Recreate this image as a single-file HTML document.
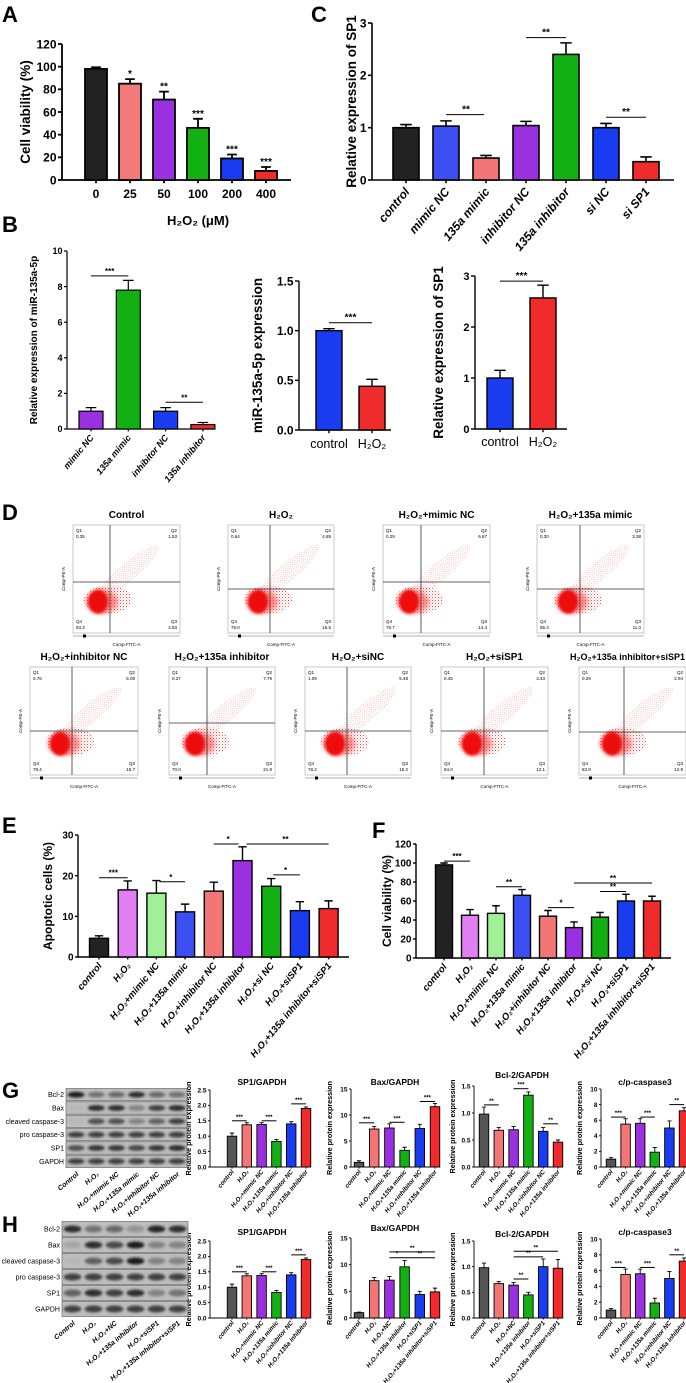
<!DOCTYPE html>
<html><head><meta charset="utf-8">
<style>
html,body{margin:0;padding:0;background:#fff;}
svg{display:block;font-family:"Liberation Sans","DejaVu Sans",sans-serif;}
</style></head>
<body>
<svg id="fig" width="686" height="1383" viewBox="0 0 686 1383" xmlns="http://www.w3.org/2000/svg">
<defs>
<filter id="blur1" x="-50%" y="-50%" width="200%" height="200%"><feGaussianBlur stdDeviation="1.2"/></filter>
<filter id="blur2" x="-50%" y="-50%" width="200%" height="200%"><feGaussianBlur stdDeviation="2.5"/></filter>
<pattern id="speck" width="3" height="3" patternUnits="userSpaceOnUse">
<rect x="0" y="0" width="1" height="1" fill="#e22"/><rect x="1.7" y="1.6" width="0.8" height="0.8" fill="#f55"/>
</pattern>
</defs>
</svg>
<script>
// ---------- DATA ----------
const aCats=["0","25","50","100","200","400"];
const aVals=[98,85,71,46,19,8];
const aErr=[1.5,4,7,8,3.5,3.5];
const aStars=["","*","**","***","***","***"];
const aTicks=[0,20,40,60,80,100,120];

const cCats=["control","mimic NC","135a mimic","inhibitor NC","135a inhibitor","si NC","si SP1"];
const cVals=[1.0,1.03,0.42,1.04,2.4,1.0,0.35];
const cErr=[0.06,0.1,0.05,0.08,0.22,0.08,0.09];
const cTicks=[0,1,2,3];

const b1Cats=["mimic NC","135a mimic","inhibitor NC","135a inhibitor"];
const b1Vals=[1.0,7.8,1.0,0.25];
const b1Err=[0.2,0.55,0.2,0.12];
const b1Ticks=[0,2,4,6,8,10];

const b2Cats=["control","H₂O₂"];
const b2Vals=[1.0,0.44];
const b2Err=[0.02,0.07];
const b2Ticks=[0,0.5,1.0,1.5];
const b2TickLabels=["0.0","0.5","1.0","1.5"];

const b3Cats=["control","H₂O₂"];
const b3Vals=[1.0,2.57];
const b3Err=[0.15,0.25];
const b3Ticks=[0,1,2,3];

const eCats=["control","H₂O₂","H₂O₂+mimic NC","H₂O₂+135a mimic","H₂O₂+inhibitor NC","H₂O₂+135a inhibitor","H₂O₂+si NC","H₂O₂+siSP1","H₂O₂+135a inhibitor+siSP1"];
const eVals=[4.6,16.5,15.7,11.1,16.2,23.7,17.4,11.4,11.9];
const eErr=[0.6,2.2,3.1,1.9,2.2,3.4,1.9,2.2,1.9];
const eTicks=[0,10,20,30];

const fVals=[98,45,47,66,44,32,43,60,60];
const fErr=[2,6,8,6,6,6,5,7,5];
const fTicks=[0,20,40,60,80,100,120];

const gCats=["control","H₂O₂","H₂O₂+mimic NC","H₂O₂+135a mimic","H₂O₂+inhibitor NC","H₂O₂+135a inhibitor"];
const hCats2=["control","H₂O₂","H₂O₂+NC","H₂O₂+135a inhibitor","H₂O₂+siSP1","H₂O₂+135a inhibitor+siSP1"];
const gSp1Vals=[1.0,1.37,1.38,0.83,1.4,1.9];
const gSp1Err=[0.1,0.07,0.06,0.06,0.07,0.05];
const gBaxVals=[0.9,7.3,7.5,3.2,7.4,11.6];
const gBaxErr=[0.3,0.5,0.8,0.6,0.8,0.6];
const gBclVals=[0.98,0.68,0.69,1.33,0.66,0.46];
const gBclErr=[0.13,0.05,0.06,0.06,0.07,0.04];
const gCasVals=[1.0,5.5,5.6,1.9,5.0,7.2];
const gCasErr=[0.2,0.7,0.6,0.6,0.9,0.4];
const hBaxVals=[1.0,7.0,7.1,9.6,4.4,4.9];
const hBaxErr=[0.1,0.6,0.7,1.2,0.6,0.7];
const hBclVals=[0.98,0.67,0.64,0.45,1.0,0.97];
const hBclErr=[0.09,0.04,0.05,0.05,0.15,0.17];
const spTicks=[0,0.5,1.0,1.5,2.0,2.5];
const spTickLabels=["0.0","0.5","1.0","1.5","2.0","2.5"];
const baxTicks=[0,5,10,15];
const bclTicks=[0,0.5,1.0,1.5];
const bclTickLabels=["0.0","0.5","1.0","1.5"];
const casTicks=[0,2,4,6,8,10];

const blotRows=["Bcl-2","Bax","cleaved caspase-3","pro caspase-3","SP1","GAPDH"];
const gBlot=[[1,.5,.55,.9,.55,.5],[.1,.9,.9,.4,.8,.9],[.1,.7,.7,.4,.6,.8],[.8,.8,.8,.8,.8,.8],[.7,.85,.85,.75,.85,.9],[.8,.8,.8,.8,.8,.8]];
const hBlot=[[.9,.5,.55,.3,.95,.9],[.2,.9,.75,1,.4,.4],[.1,.6,.75,1,.4,.4],[.8,.8,.8,.8,.8,.8],[.6,.9,.8,.9,.4,.5],[.8,.8,.8,.8,.8,.8]];
const gLanes=["Control","H₂O₂","H₂O₂+mimic NC","H₂O₂+135a mimic","H₂O₂+inhibitor NC","H₂O₂+135a inhibitor"];
const hLanes=["Control","H₂O₂","H₂O₂+NC","H₂O₂+135a inhibitor","H₂O₂+siSP1","H₂O₂+135a inhibitor+siSP1"];

const flowTitles=["Control","H₂O₂","H₂O₂+mimic NC","H₂O₂+135a mimic","H₂O₂+inhibitor NC","H₂O₂+135a inhibitor","H₂O₂+siNC","H₂O₂+siSP1","H₂O₂+135a inhibitor+siSP1"];
const flowQ1=["0.35","0.64","0.29","0.30","0.76","0.37","1.09","0.45","0.29"];
const flowQ2=["1.53","4.85","6.67","3.38","5.09","7.79","5.48","3.43","2.94"];
const flowQ3=["4.83","16.5","14.4","11.0","15.7","21.9","15.2","12.1","12.9"];
const flowQ4=["93.3","78.0","78.7","85.3","78.4","70.0","78.2","84.0","83.9"];

// ---------- HELPERS ----------
const NS="http://www.w3.org/2000/svg";
const svg=document.getElementById('fig');
function mk(tag,parent,attrs){const e=document.createElementNS(NS,tag);for(const k in attrs)e.setAttribute(k,attrs[k]);parent.appendChild(e);return e;}
function txt(parent,x,y,s,fs,opts){opts=opts||{};const t=mk('text',parent,{x:x,y:y,'font-size':fs,'font-weight':opts.w||'bold','text-anchor':opts.a||'middle',fill:opts.fill||'#000'});if(opts.rot!==undefined)t.setAttribute('transform','rotate('+opts.rot+' '+x+' '+y+')');if(opts.it)t.setAttribute('font-style','italic');t.textContent=s;return t;}

function chart(o){
  const g=mk('g',svg,{});
  
  
  const sy=v=>o.y0-(v/o.max)*(o.y0-o.yTop);
  const sx=i=>o.c0+i*o.step;
  const sw=o.sw||1.2;
  const ax=mk('line',g,{x1:o.ax,y1:o.y0,x2:o.ax,y2:sy(o.max),stroke:'#000','stroke-width':sw});
  
  
  const xa=mk('line',g,{x1:o.ax,y1:o.y0,x2:o.x1,y2:o.y0,stroke:'#000','stroke-width':sw});
  
  
  o.ticks.forEach((t,k)=>{
    mk('line',g,{x1:o.ax-o.tl,y1:sy(t),x2:o.ax,y2:sy(t),stroke:'#000','stroke-width':sw});
    const lab=o.tickLabels?o.tickLabels[k]:String(t);
    const tt=txt(g,o.ax-o.tl-1.5,sy(t)+o.tfs*0.36,lab,o.tfs,{a:'end'});
    
    
  });
  o.vals.forEach((v,i)=>{
    const cx=sx(i);
    mk('line',g,{x1:cx,y1:o.y0,x2:cx,y2:o.y0+o.tl*0.8,stroke:'#000','stroke-width':sw});
    const et=sy(v+o.errs[i]);
    const el=mk('path',g,{d:'M'+cx+' '+sy(v)+'V'+et+'M'+(cx-o.bw*0.22)+' '+et+'H'+(cx+o.bw*0.22),stroke:'#000','stroke-width':sw,fill:'none'});
    
    
    const b=mk('rect',g,{x:cx-o.bw/2,y:sy(v),width:o.bw,height:o.y0-sy(v),fill:o.colors[i],stroke:'#000','stroke-width':o.bsw||sw});
    
    
    if(o.stars&&o.stars[i]){
      const st=txt(g,cx,et-2,o.stars[i],o.sfs,{});
      
      
    }
    if(o.cats){
      let t;
      if(o.rot){t=txt(g,cx+o.lfs*0.35,o.y0+o.lo,o.cats[i],o.lfs,{a:'end',rot:-o.rot,it:o.it});}
      else{t=txt(g,cx,o.y0+o.lo,o.cats[i],o.lfs,{w:o.lw||'bold'});}
      
      
    }
  });
  (o.sig||[]).forEach(s=>{
    const y=sy(s[2]);
    const l=mk('line',g,{x1:sx(s[0])-(s[4]||0),y1:y,x2:sx(s[1])+(s[5]||0),y2:y,stroke:'#000','stroke-width':1});
    
    
    const t=txt(g,(sx(s[0])+sx(s[1]))/2,y-2,s[3],o.sfs,{});
    
    
  });
  if(o.ylabel){
    const t=txt(g,o.ylx,(o.y0+sy(o.max))/2,o.ylabel,o.yfs,{rot:-90});
    
    
  }
  if(o.title){
    const t=txt(g,o.tx,o.ty,o.title,o.tifs||9,{});
    
    
  }
  if(o.xtitle){
    const t=txt(g,o.xtx,o.xty,o.xtitle,o.xtfs,{});
    
    
  }
}
function panelLabel(s,x,y){const t=txt(svg,x,y,s,22,{a:'start'});}

// ---------- PANEL LABELS ----------
panelLabel('A',2,22);panelLabel('C',311,22);panelLabel('B',2,232);panelLabel('D',2,520);
panelLabel('E',2,833);panelLabel('F',372,838);panelLabel('G',2,1098);panelLabel('H',2,1232);

// ---------- A ----------
chart({name:'panel-a-chart',ax:62,x1:291,y0:180,yTop:44,max:120,ticks:aTicks,tl:4,tfs:12,
  c0:96,step:34,bw:22,sw:1.8,vals:aVals,errs:aErr,colors:['#222','#f47a7a','#9b30e0','#12b012','#1a3cf0','#f02b2b'],
  stars:aStars,sfs:10,cats:aCats,lo:18,lfs:12,ylabel:'Cell viability (%)',ylx:30,yfs:13.5,
  xtitle:'H₂O₂ (μM)',xtx:198,xty:225,xtfs:13});
// ---------- C ----------
chart({name:'panel-c-chart',ax:372,x1:674,y0:180,yTop:23,max:3,ticks:cTicks,tl:4,tfs:12,
  c0:406,step:40,bw:26,sw:1.6,vals:cVals,errs:cErr,colors:['#222','#3b4ff2','#f27676','#9b30e0','#12b012','#1a3cf0','#f02b2b'],
  cats:cCats,rot:50,lo:12,lfs:12,it:true,sfs:10,
  sig:[[1,2,1.25,'**',0,-2],[3,4,2.72,'**',0,0],[5,6,1.2,'**',0,0]],
  ylabel:'Relative expression of SP1',ylx:356,yfs:13.5});
// ---------- B ----------
chart({name:'panel-b-mir-chart',ax:67,x1:215,y0:429,yTop:251,max:10,ticks:b1Ticks,tl:3,tfs:9,
  c0:91,step:37.3,bw:24,sw:1.2,vals:b1Vals,errs:b1Err,colors:['#9b30e0','#12b012','#1a3cf0','#f02b2b'],
  cats:b1Cats,rot:50,lo:9,lfs:9,it:true,sfs:8,
  sig:[[0,1,8.6,'***',0,0],[2,3,1.5,'**',0,0]],
  ylabel:'Relative expression of miR-135a-5p',ylx:37,yfs:10});
chart({name:'panel-b-h2o2-mir-chart',ax:299,x1:391,y0:430,yTop:281,max:1.5,ticks:b2Ticks,tickLabels:b2TickLabels,tl:4,tfs:12,
  c0:329,step:43,bw:26,sw:1.4,vals:b2Vals,errs:b2Err,colors:['#1a3cf0','#f02b2b'],
  cats:b2Cats,lo:18,lfs:12.5,lw:'normal',sfs:10,sig:[[0,1,1.08,'***',0,0]],
  ylabel:'miR-135a-5p expression',ylx:262,yfs:13.5});
chart({name:'panel-b-h2o2-sp1-chart',ax:475,x1:567,y0:429,yTop:276,max:3,ticks:b3Ticks,tl:4,tfs:11,
  c0:500,step:43,bw:26,sw:1.4,vals:b3Vals,errs:b3Err,colors:['#1a3cf0','#f02b2b'],
  cats:b3Cats,lo:17,lfs:12.5,lw:'normal',sfs:10,sig:[[0,1,2.9,'***',0,0]],
  ylabel:'Relative expression of SP1',ylx:443,yfs:13.5});
// ---------- E & F ----------
const efColors=['#222','#e080f2','#a0f096','#3b4ff2','#f27676','#9b30e0','#12b012','#1a3cf0','#f02b2b'];
chart({name:'panel-e-chart',ax:78,x1:349,y0:957,yTop:835,max:30,ticks:eTicks,tl:3,tfs:10,
  c0:99,step:28.7,bw:19,sw:1.4,vals:eVals,errs:eErr,colors:efColors,
  cats:eCats,rot:50,lo:9,lfs:9.5,it:true,sfs:8,
  sig:[[0,1,19.5,'***',0,0],[2,3,18.5,'*',-3,0],[4,5,27.8,'*',0,-4],[5,8,27.8,'**',-4,0],[6,7,20.2,'*',-2,0]],
  ylabel:'Apoptotic cells (%)',ylx:52,yfs:12});
chart({name:'panel-f-chart',ax:416,x1:671,y0:958,yTop:844,max:120,ticks:fTicks,tl:3,tfs:10,
  c0:444,step:26,bw:17,sw:1.4,vals:fVals,errs:fErr,colors:efColors,
  cats:eCats,rot:50,lo:9,lfs:9.5,it:true,sfs:8,
  sig:[[0,1,102,'***',0,0],[2,3,75,'**',0,0],[4,5,53,'*',0,0],[5,8,79,'**',0,0],[6,7,70,'**',0,0]],
  ylabel:'Cell viability (%)',ylx:391,yfs:12});
// ---------- G & H charts ----------
const ghColors=['#555','#f27676','#9b30e0','#12b012','#1a3cf0','#f02b2b'];
function small(name,ax,x1,c0,step,y0,yTop,max,ticks,tl,vals,errs,cats,sig,title,tx,ty){
  chart({name:name,ax:ax,x1:x1,y0:y0,yTop:yTop,max:max,ticks:ticks,tickLabels:tl,tl:2,tfs:6.5,
    c0:c0,step:step,bw:9.5,sw:0.9,vals:vals,errs:errs,colors:ghColors,
    cats:cats,rot:50,lo:5,lfs:6.3,it:true,sfs:6,sig:sig,
    ylabel:'Relative protein expression',ylx:ax-19,yfs:7.2,title:title,tx:tx,ty:ty,tifs:8.5});
}
small('panel-g-sp1-chart',210,311,232,14.8,1167,1090,2.5,spTicks,spTickLabels,gSp1Vals,gSp1Err,gCats,[[0,1,1.5,'***'],[2,3,1.5,'***'],[4,5,2.05,'***']],'SP1/GAPDH',262,1085);
small('panel-g-bax-chart',351,440,359,15.2,1167,1089,15,baxTicks,null,gBaxVals,gBaxErr,gCats,[[0,1,8.5,'***'],[2,3,8.6,'***'],[4,5,12.6,'***']],'Bax/GAPDH',395,1085);
small('panel-g-bcl2-chart',474,563,484,14.8,1167,1086,1.5,bclTicks,bclTickLabels,gBclVals,gBclErr,gCats,[[0,1,1.15,'**'],[2,3,1.45,'***'],[4,5,0.8,'**']],'Bcl-2/GAPDH',522,1078);
small('panel-g-casp-chart',601,686,611,14.6,1167,1089,10,casTicks,null,gCasVals,gCasErr,gCats,[[0,1,6.4,'***'],[2,3,6.4,'***'],[4,5,8,'**']],'c/p-caspase3',645,1085);
small('panel-h-sp1-chart',210,311,232,14.8,1318,1241,2.5,spTicks,spTickLabels,gSp1Vals,gSp1Err,gCats,[[0,1,1.5,'***'],[2,3,1.5,'***'],[4,5,2.05,'***']],'SP1/GAPDH',262,1235);
small('panel-h-bax-chart',351,440,359,15.2,1318,1238,15,baxTicks,null,hBaxVals,hBaxErr,hCats2,[[2,3,11.3,'*'],[2,5,12.4,'**'],[3,5,11.3,'**']],'Bax/GAPDH',395,1231);
small('panel-h-bcl2-chart',474,563,484,14.8,1318,1241,1.5,bclTicks,bclTickLabels,hBclVals,hBclErr,hCats2,[[2,3,0.76,'**'],[2,4,1.19,'**'],[2,5,1.3,'**']],'Bcl-2/GAPDH',522,1237);
small('panel-h-casp-chart',601,686,611,14.6,1318,1239,10,casTicks,null,gCasVals,gCasErr,gCats,[[0,1,6.4,'***'],[2,3,6.4,'***'],[4,5,8,'**']],'c/p-caspase3',645,1235);

// ---------- Western blots ----------
function blot(name,x,y,w,h,data,lanes,labX){
  const g=mk('g',svg,{});
  
  
  const rh=h/6, lw=w/6;
  data.forEach((row,r)=>{
    const ry=y+r*rh;
    const bg=mk('rect',g,{x:x,y:ry+0.5,width:w,height:rh-1,fill:'#bdbdbd',stroke:'#555','stroke-width':0.6});
    
    
    row.forEach((v,i)=>{
      const c=Math.round(200-170*v);
      const b=mk('ellipse',g,{cx:x+lw*(i+0.5),cy:ry+rh/2,rx:lw*0.42,ry:rh*0.22,fill:'rgb('+c+','+c+','+c+')',filter:'url(#blur1)'});
      
      
    });
    const t=txt(g,labX,ry+rh/2+2.5,blotRows[r],7,{a:'end',w:'normal'});
    
    
  });
  lanes.forEach((s,i)=>{
    const lx=x+lw*(i+0.5)+3, ly=y+h+7;
    const t=txt(g,lx,ly,s,7,{a:'end',rot:-40,it:true});
    
    
  });
}
blot('panel-g-blot',66,1088,121,80,gBlot,gLanes,64);
blot('panel-h-blot',62,1221,126,96,hBlot,hLanes,60);

// ---------- Flow cytometry ----------
const flowBoxes=[[73,525,107,108,110,582],[228,525,106,108,270,589],[383,525,107,108,421,582],[537,525,107,108,580,589],
  [30,667,108,108,72,731],[169,667,106,108,207,723],[305,667,106,108,347,731],[441,667,107,108,484,731],[579,667,107,108,624,732]];
flowBoxes.forEach((b,k)=>{
  const [x,y,w,h,vx,hy]=b;
  const g=mk('g',svg,{});
  
  
  mk('rect',g,{x:x,y:y,width:w,height:h,fill:'#fff',stroke:'#bbb','stroke-width':0.8});
  const bx=vx-12, by=y+h*0.71;
  mk('ellipse',g,{cx:bx+30,cy:by-30,rx:40,ry:9,fill:'url(#speck)',opacity:0.35,transform:'rotate(-40 '+(bx+30)+' '+(by-30)+')'});
  mk('ellipse',g,{cx:bx+10,cy:by-2,rx:24,ry:14,fill:'url(#speck)',opacity:0.8});
  mk('ellipse',g,{cx:bx+4,cy:by,rx:16,ry:12,fill:'#f33',opacity:0.55,filter:'url(#blur2)'});
  mk('ellipse',g,{cx:bx,cy:by,rx:10,ry:12,fill:'#ee1010',filter:'url(#blur1)'});
  mk('line',g,{x1:vx,y1:y,x2:vx,y2:y+h,stroke:'#333','stroke-width':0.8});
  mk('line',g,{x1:x,y1:hy,x2:x+w,y2:hy,stroke:'#333','stroke-width':0.8});
  const fs=4.5;
  txt(g,x+3,y+7,'Q1',fs,{a:'start',w:'normal'});
  txt(g,x+3,y+13,flowQ1[k],fs,{a:'start',w:'normal'});
  txt(g,x+w-3,y+7,'Q2',fs,{a:'end',w:'normal'});
  txt(g,x+w-3,y+13,flowQ2[k],fs,{a:'end',w:'normal'});
  txt(g,x+3,y+h-10,'Q4',fs,{a:'start',w:'normal'});
  txt(g,x+3,y+h-4,flowQ4[k],fs,{a:'start',w:'normal'});
  txt(g,x+w-3,y+h-10,'Q3',fs,{a:'end',w:'normal'});
  txt(g,x+w-3,y+h-4,flowQ3[k],fs,{a:'end',w:'normal'});
  txt(g,x+w/2,y+h+13,'Comp-FITC-A',4.5,{w:'normal'});
  txt(g,x-8,y+h/2,'Comp-PE-A',4.5,{w:'normal',rot:-90});
  mk('line',g,{x1:x,y1:y+h+3,x2:x+w,y2:y+h+3,stroke:'#666','stroke-width':0.6});
  mk('rect',g,{x:x+10,y:y+h+1.5,width:3,height:3,fill:'#000'});
  const t=(k===8)?txt(g,685,y-7,flowTitles[k],9,{a:'end'}):txt(g,x+w/2,y-7,flowTitles[k],10,{});
  
  
});
</script>
</body></html>
